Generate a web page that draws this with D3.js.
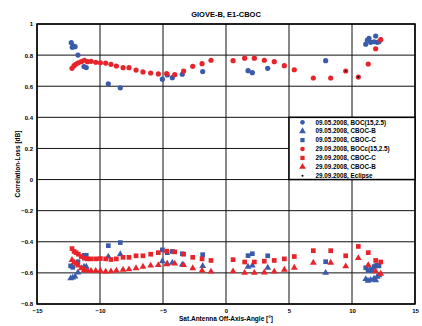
<!DOCTYPE html>
<html>
<head>
<meta charset="utf-8">
<script src="https://cdn.jsdelivr.net/npm/d3@7"></script>
<style>
  body { margin: 0; background: #fff; }
  text { font-family: "Liberation Sans", Arial, sans-serif; font-weight: bold; }
</style>
</head>
<body>
<div id="chart"></div>
<script>
// data: [angle, loss]
var boc0905 = [[-12.28,0.88],[-12.14,0.859],[-11.98,0.854],[-12.2,0.85],[-11.75,0.80],[-11.27,0.726],[-11.09,0.72],
  [-9.34,0.616],[-8.39,0.59],[-5.05,0.645],[-4.66,0.672],[-4.26,0.655],[-3.47,0.677],[-1.85,0.694],
  [1.75,0.70],[2.09,0.687],[3.31,0.715],[7.91,0.764],
  [11.09,0.87],[11.22,0.897],[11.35,0.908],[11.48,0.882],[11.75,0.886],[11.88,0.923],[12.0,0.882],[12.14,0.886]];
var cbocB0905 = [[-12.33,-0.635],[-12.17,-0.63],[-11.98,-0.624],[-11.75,-0.597],[-11.27,-0.56],[-11.09,-0.56],
  [-9.34,-0.495],[-8.39,-0.48],[-5.05,-0.525],[-4.66,-0.54],[-4.26,-0.535],[-3.47,-0.547],[-1.85,-0.556],
  [1.75,-0.56],[2.09,-0.553],[3.31,-0.567],[7.91,-0.6],
  [11.09,-0.64],[11.27,-0.65],[11.48,-0.645],[11.75,-0.637],[11.88,-0.647],[12.0,-0.625],[12.14,-0.615]];
var cbocC0905 = [[-12.33,-0.555],[-12.17,-0.564],[-11.75,-0.528],[-11.27,-0.487],[-11.09,-0.487],
  [-9.34,-0.425],[-8.39,-0.405],[-5.05,-0.452],[-4.66,-0.47],[-4.26,-0.462],[-3.47,-0.477],[-1.85,-0.483],
  [1.75,-0.489],[2.09,-0.477],[3.31,-0.49],[7.91,-0.528],
  [11.09,-0.567],[11.27,-0.585],[11.48,-0.578],[11.61,-0.585],[11.75,-0.56],[11.88,-0.555],[12.0,-0.55],[12.14,-0.555]];

// 29.09 passes share the same angles
var angles2909 = [-12.22,-12.06,-11.9,-11.72,-11.48,-11.24,-11.0,-10.71,-10.34,-9.97,-9.55,-9.13,-8.7,-8.17,-7.7,
  -7.14,-6.59,-5.98,-5.37,-4.71,-4.07,-3.36,-2.64,-1.9,-1.19,0.56,1.48,2.25,3.04,3.83,4.63,5.42,6.93,8.31,9.5,10.5,11.29,11.88,12.28];
var bocc2909 = [0.715,0.732,0.743,0.751,0.758,0.767,0.758,0.76,0.754,0.751,0.749,0.741,0.73,0.719,0.719,
  0.704,0.692,0.685,0.679,0.681,0.674,0.698,0.728,0.745,0.767,0.764,0.78,0.78,0.767,0.758,0.732,0.706,0.653,0.653,0.698,0.659,0.743,0.841,0.899];
var cbocC2909 = [-0.444,-0.462,-0.47,-0.48,-0.495,-0.506,-0.51,-0.51,-0.51,-0.508,-0.51,-0.514,-0.51,-0.5,-0.5,
  -0.49,-0.49,-0.48,-0.47,-0.46,-0.465,-0.48,-0.5,-0.51,-0.52,-0.515,-0.53,-0.53,-0.525,-0.52,-0.51,-0.495,-0.457,-0.457,-0.49,-0.43,-0.47,-0.52,-0.53];
var cbocB2909 = [-0.517,-0.532,-0.542,-0.553,-0.57,-0.581,-0.585,-0.587,-0.587,-0.587,-0.592,-0.59,-0.585,-0.58,-0.577,
  -0.57,-0.56,-0.553,-0.55,-0.545,-0.54,-0.55,-0.57,-0.585,-0.592,-0.59,-0.6,-0.6,-0.597,-0.592,-0.58,-0.567,-0.535,-0.535,-0.558,-0.505,-0.55,-0.59,-0.605];
var eclipse2909 = [[9.5,0.698],[10.5,0.659]];

var xTicks = [-15,-10,-5,0,5,10,15];
var yTicks = [-0.8,-0.6,-0.4,-0.2,0,0.2,0.4,0.6,0.8,1];
var legendLabels = ["09.05.2008, BOC(15,2.5)","09.05.2008, CBOC-B","09.05.2008, CBOC-C",
  "29.09.2008, BOCc(15,2.5)","29.09.2008, CBOC-C","29.09.2008, CBOC-B","29.09.2008, Eclipse"];

var blue = "#3a5ba9", red = "#e8242b";

var margin = { top: 24, right: 7, bottom: 22, left: 37 },
    width = 422 - margin.left - margin.right,
    height = 326 - margin.top - margin.bottom;

var svg = d3.select("#chart").append("svg")
    .attr("width", 422).attr("height", 326)
    .append("g")
    .attr("transform", "translate(" + margin.left + "," + margin.top + ")");

var x = d3.scaleLinear().domain([-15, 15]).range([0, width]);
var y = d3.scaleLinear().domain([-0.8, 1]).range([height, 0]);

// grid
svg.append("g").selectAll("line").data(xTicks).enter().append("line")
    .attr("x1", d => x(d)).attr("x2", d => x(d)).attr("y1", 0).attr("y2", height)
    .attr("stroke", "#111").attr("stroke-width", 1);
svg.append("g").selectAll("line").data(yTicks).enter().append("line")
    .attr("y1", d => y(d)).attr("y2", d => y(d)).attr("x1", 0).attr("x2", width)
    .attr("stroke", "#111").attr("stroke-width", 1);

// axes
var xAxis = svg.append("g")
    .attr("transform", "translate(0," + height + ")")
    .call(d3.axisBottom(x).tickValues(xTicks).tickSize(0).tickPadding(5));
var yAxis = svg.append("g")
    .call(d3.axisLeft(y).tickValues(yTicks).tickSize(0).tickPadding(4).tickFormat(d3.format("")));
[xAxis, yAxis].forEach(a => {
    a.select(".domain").remove();
    a.selectAll("text").attr("font-size", 6).attr("fill", "#000");
});

// frame
svg.append("rect").attr("width", width).attr("height", height)
    .attr("fill", "none").attr("stroke", "#000").attr("stroke-width", 1.5);

function pts(angles, vals) { return angles.map((a, i) => [a, vals[i]]); }

var tri = d3.symbol().type(d3.symbolTriangle).size(20);
var sq = d3.symbol().type(d3.symbolSquare).size(22);

function drawCircles(data, color) {
    svg.append("g").selectAll("circle").data(data).enter().append("circle")
        .attr("cx", d => x(d[0])).attr("cy", d => y(d[1])).attr("r", 2.6)
        .attr("fill", color);
}
function drawSymbols(data, sym, color) {
    svg.append("g").selectAll("path").data(data).enter().append("path")
        .attr("d", sym)
        .attr("transform", d => "translate(" + x(d[0]) + "," + y(d[1]) + ")")
        .attr("fill", color);
}

drawCircles(boc0905, blue);
drawSymbols(cbocB0905, tri, blue);
drawSymbols(cbocC0905, sq, blue);
drawCircles(pts(angles2909, bocc2909), red);
drawSymbols(pts(angles2909, cbocC2909), sq, red);
drawSymbols(pts(angles2909, cbocB2909), tri, red);
svg.append("g").selectAll("circle").data(eclipse2909).enter().append("circle")
    .attr("cx", d => x(d[0])).attr("cy", d => y(d[1])).attr("r", 1)
    .attr("fill", "#000");

// legend
var lg = svg.append("g").attr("transform", "translate(" + x(5) + "," + y(0.4) + ")");
lg.append("rect").attr("width", x(15) - x(5)).attr("height", y(0) - y(0.4))
    .attr("fill", "#fff").attr("stroke", "#000").attr("stroke-width", 1.5);
var legendMarks = [["c", blue], ["t", blue], ["s", blue], ["c", red], ["s", red], ["t", red], ["e", "#000"]];
legendLabels.forEach((lab, i) => {
    var yy = 5 + i * 8.9;
    var m = legendMarks[i];
    if (m[0] === "c") lg.append("circle").attr("cx", 13.5).attr("cy", yy).attr("r", 2.3).attr("fill", m[1]);
    if (m[0] === "e") lg.append("circle").attr("cx", 13.5).attr("cy", yy).attr("r", 1).attr("fill", m[1]);
    if (m[0] === "t") lg.append("path").attr("d", tri).attr("transform", "translate(13.5," + yy + ")").attr("fill", m[1]);
    if (m[0] === "s") lg.append("path").attr("d", d3.symbol().type(d3.symbolSquare).size(18))
        .attr("transform", "translate(13.5," + yy + ")").attr("fill", m[1]);
    lg.append("text").attr("x", 26.5).attr("y", yy + 2.2).attr("font-size", 6.3).text(lab);
});

// titles
svg.append("text").attr("x", width / 2).attr("y", -7).attr("text-anchor", "middle")
    .attr("font-size", 7.5).text("GIOVE-B, E1-CBOC");
svg.append("text").attr("x", width / 2).attr("y", height + 17).attr("text-anchor", "middle")
    .attr("font-size", 6.5).text("Sat.Antenna Off-Axis-Angle [°]");
svg.append("text").attr("transform", "translate(-17," + (height / 2) + ") rotate(-90)")
    .attr("text-anchor", "middle").attr("font-size", 6.5).text("Correlation-Loss [dB]");
</script>
</body>
</html>
